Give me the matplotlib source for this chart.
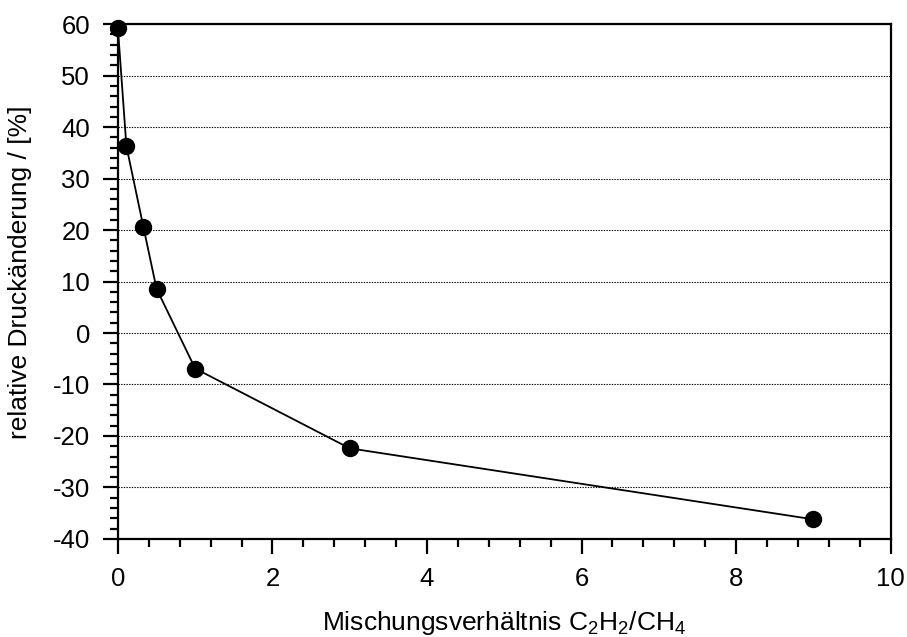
import matplotlib.pyplot as plt
from matplotlib.ticker import MultipleLocator

plt.rcParams['font.family'] = ['Liberation Sans', 'DejaVu Sans']
plt.rcParams['mathtext.fontset'] = 'custom'
plt.rcParams['mathtext.rm'] = 'Liberation Sans'
plt.rcParams['mathtext.it'] = 'Liberation Sans:italic'
plt.rcParams['axes.unicode_minus'] = False

# Mischungsverhältnis C2H2/CH4 und relative Druckänderung in %
verhaeltnis = [0.0, 0.11, 0.33, 0.5, 1.0, 3.0, 9.0]
druckaenderung = [59.2, 36.3, 20.6, 8.6, -6.9, -22.4, -36.2]

fig = plt.figure(figsize=(9.07, 6.37), dpi=100)
ax = fig.add_axes([0.130, 0.154, 0.852, 0.808])

ax.plot(verhaeltnis, druckaenderung, color='black', lw=1.3,
        marker='o', ms=11.5, zorder=3, clip_on=False)

ax.set_xlim(0, 10)
ax.set_ylim(-40, 60)
ax.xaxis.set_major_locator(MultipleLocator(2))
ax.xaxis.set_minor_locator(MultipleLocator(0.4))
ax.yaxis.set_major_locator(MultipleLocator(10))
ax.yaxis.set_minor_locator(MultipleLocator(2))

ax.grid(axis='y', which='major', color='black', ls=(0, (1.2, 1.2)), lw=0.8)
for s in ax.spines.values():
    s.set_linewidth(1.6)

ax.tick_params(which='major', direction='out', length=10.5, width=1.6,
               labelsize=18.5, pad=9.5)
ax.tick_params(which='minor', direction='out', length=5.5, width=1.6)
ax.tick_params(top=False, right=False, which='both')

ax.set_xlabel('Mischungsverhältnis C$_2$H$_2$/CH$_4$', fontsize=19)
ax.set_ylabel('relative Druckänderung / [%]', fontsize=19)
ax.xaxis.set_label_coords(0.5, -0.136)
ax.yaxis.set_label_coords(-0.111, 0.518)

fig.savefig('out.png', dpi=100)
